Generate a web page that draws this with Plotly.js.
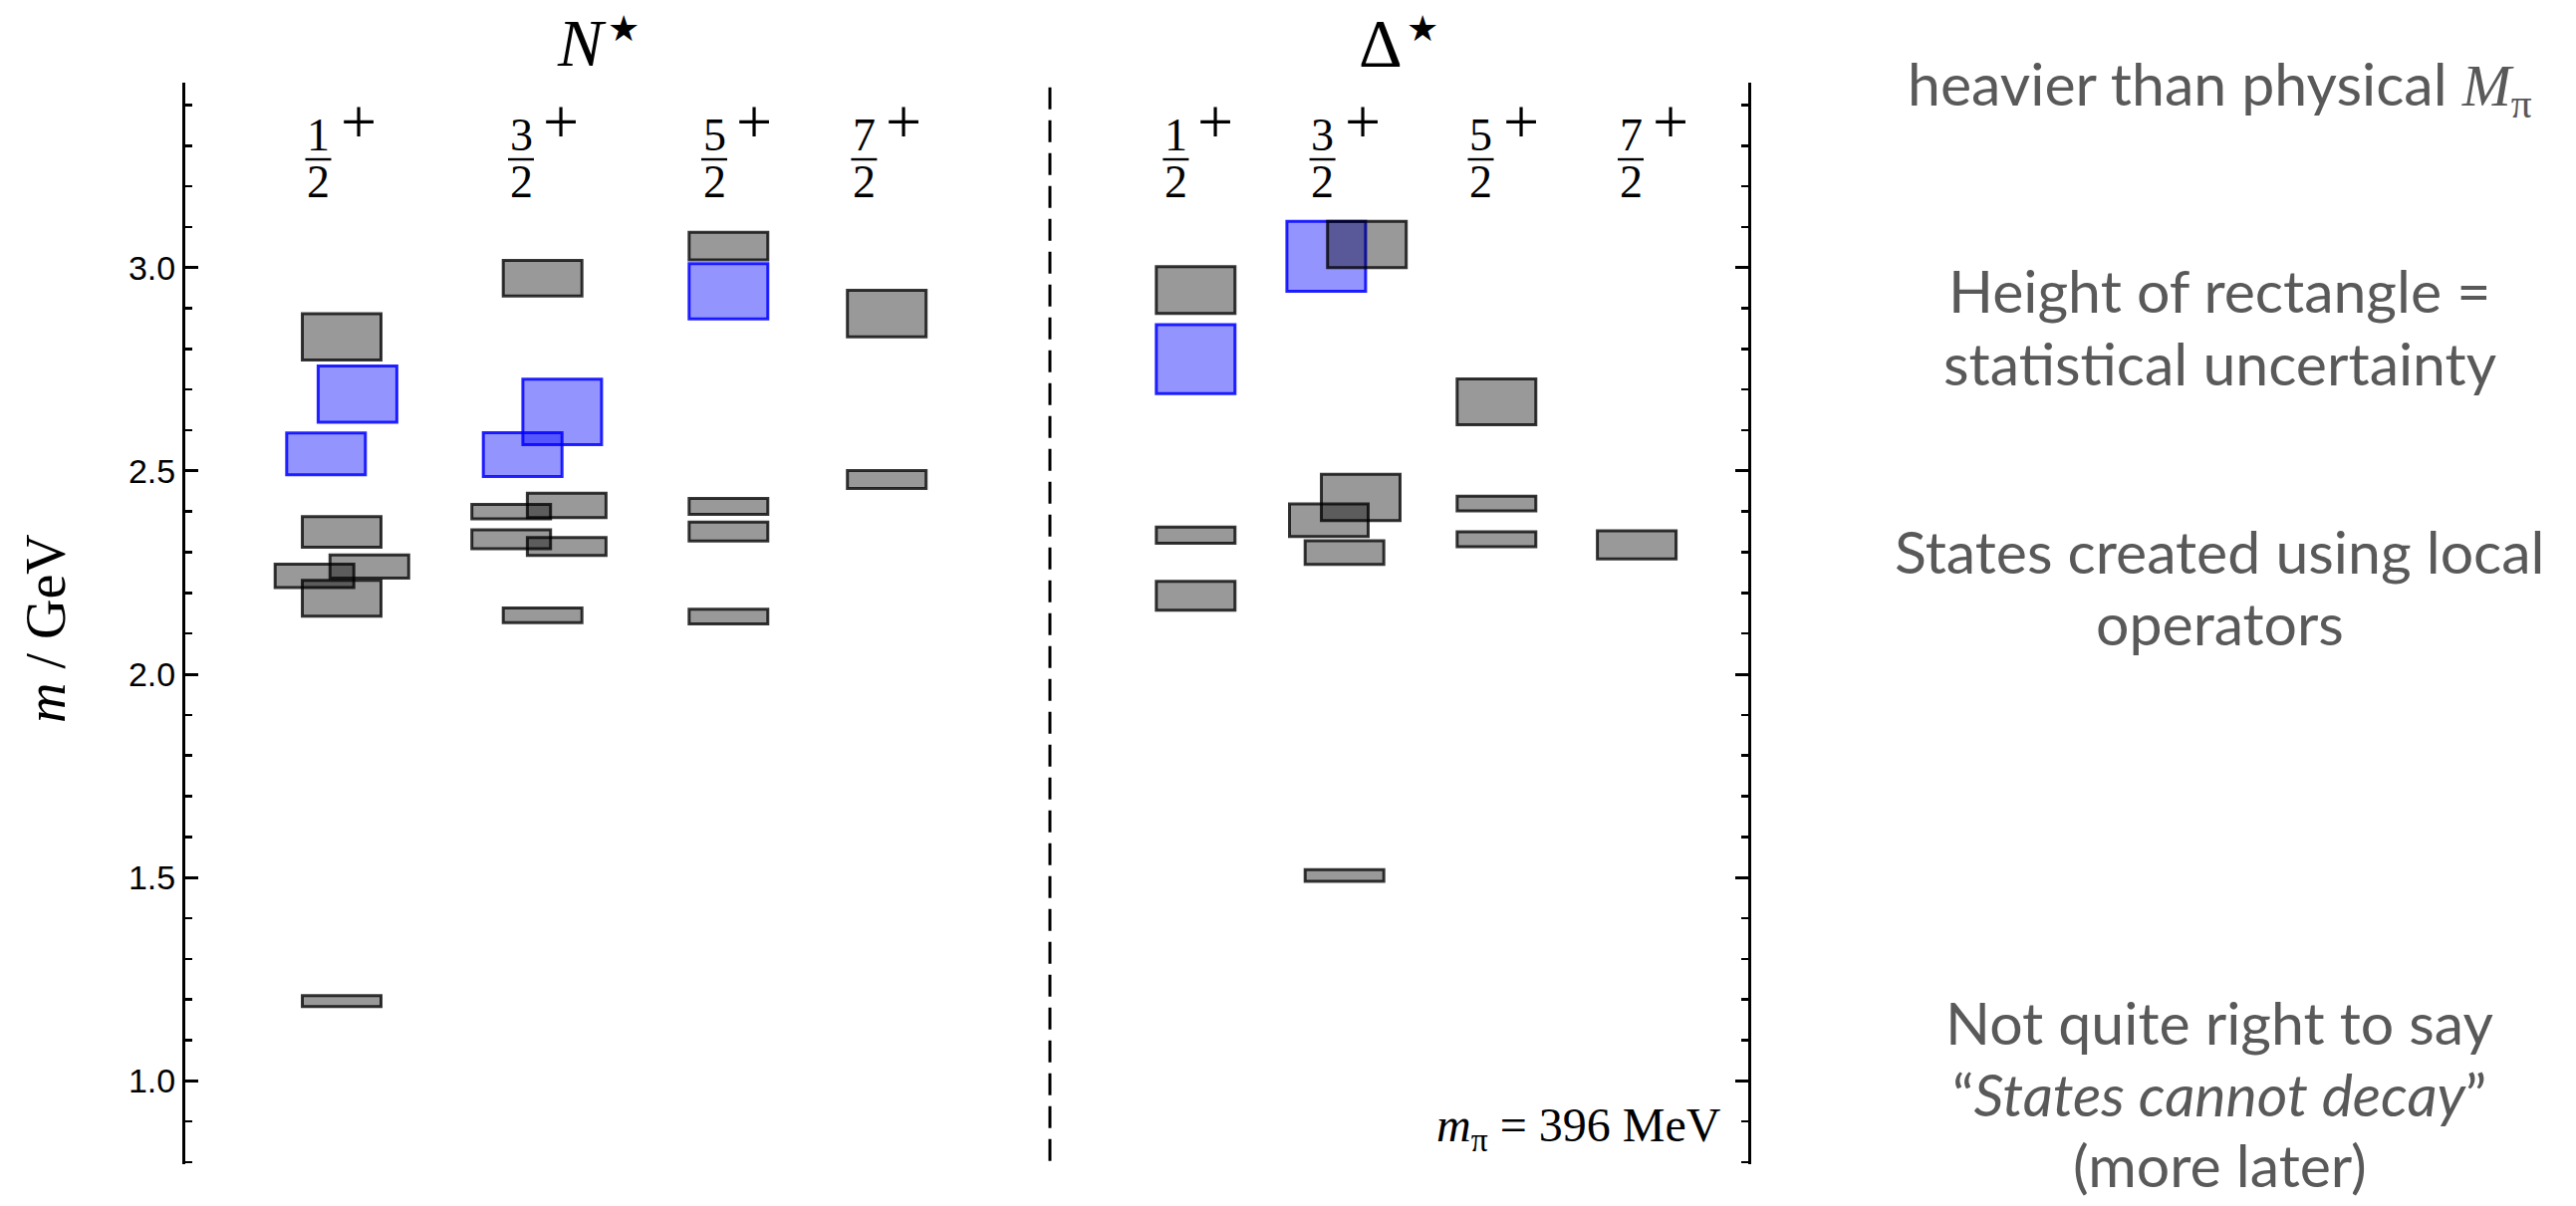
<!DOCTYPE html>
<html>
<head>
<meta charset="utf-8">
<script src="https://cdn.plot.ly/plotly-3.0.1.min.js"></script>
<style>
  html, body { margin: 0; padding: 0; background: #ffffff; }
  #chart { width: 2586px; height: 1211px; }
</style>
</head>
<body>
<div id="chart"></div>
<script>
// ---------------- DATA ----------------
const groupNames = ["N", "Δ"];
const spinNumerators = ["1", "3", "5", "7"];
const spinDenominator = "2";
const parity = "+";
const pionMassLabel = "396 MeV";

// one entry per state (rectangle)
const stateGroup = [0,0,0,0,0,0,0,0, 0,0,0,0,0,0,0,0, 0,0,0,0,0, 0,0, 1,1,1,1, 1,1,1,1,1,1, 1,1,1, 1];
const stateSpin  = [0,0,0,0,0,0,0,0, 1,1,1,1,1,1,1,1, 2,2,2,2,2, 3,3, 0,0,0,0, 1,1,1,1,1,1, 2,2,2, 3];
const stateMass  = [2.830,2.689,2.542,2.350,2.242,2.265,2.187,1.196,
                    2.974,2.645,2.540,2.415,2.400,2.332,2.314,2.145,
                    3.053,2.942,2.413,2.351,2.142,
                    2.887,2.479,
                    2.945,2.775,2.342,2.193,
                    3.028,3.057,2.435,2.379,2.299,1.505,
                    2.670,2.420,2.332,
                    2.318];
const stateErr   = [0.114,0.138,0.103,0.075,0.058,0.057,0.088,0.027,
                    0.087,0.161,0.108,0.060,0.036,0.046,0.044,0.036,
                    0.068,0.136,0.039,0.047,0.036,
                    0.115,0.044,
                    0.115,0.170,0.040,0.071,
                    0.172,0.114,0.114,0.080,0.058,0.029,
                    0.113,0.036,0.037,
                    0.069];
const stateKind  = ["g","b","b","g","g","g","g","g",
                    "g","b","b","g","g","g","g","g",
                    "g","b","g","g","g",
                    "g","g",
                    "g","b","g","g",
                    "b","g","g","g","g","g",
                    "g","g","g",
                    "g"];

const sideNotes = [
  "heavier than physical <span style=\"font-family:'Liberation Serif'\"><i>M</i><sub>π</sub></span>",
  "Height of rectangle =",
  "statistical uncertainty",
  "States created using local",
  "operators",
  "Not quite right to say",
  "“<i>States cannot decay</i>”",
  "(more later)"
];

// ---------------- LAYOUT (positions / styles) ----------------
const COLUMN_X = [[1.57, 3.587, 5.453, 7.042], [10.143, 11.637, 13.163, 14.571]];
const LABEL_X  = [[1.335, 3.37, 5.31, 6.814], [9.944, 11.416, 13.005, 14.51]];
const HEADER_X = [4.10, 12.12];
const SEPARATOR_X = 8.68;
const BOX_W = 0.79;
const stateNudge = [0,0.159,-0.157,0,-0.273,0.278,0,0,
                    0,0.197,-0.200,0.242,-0.315,-0.315,0.242,0,
                    0,0,0,0,0,
                    0,0,
                    0,0,0,0,
                    -0.183,0.225,0.163,-0.157,0,0,
                    0,0,0,
                    0];
const NOTE_Y = [0.9954, 0.8082, 0.7406, 0.5672, 0.5009, 0.1308, 0.0645, -0.0009];

const STYLE = {
  g: { fill: "rgba(0,0,0,0.40)", line: "rgba(0,0,0,0.78)" },
  b: { fill: "rgba(0,0,255,0.42)", line: "rgba(0,0,255,0.85)" }
};

function boxTrace(kind) {
  const xs = [], ys = [], bs = [];
  for (let i = 0; i < stateMass.length; i++) {
    if (stateKind[i] !== kind) continue;
    xs.push(COLUMN_X[stateGroup[i]][stateSpin[i]] + stateNudge[i]);
    ys.push(stateErr[i]);
    bs.push(stateMass[i] - stateErr[i] / 2);
  }
  return {
    type: "bar", x: xs, y: ys, base: bs, width: BOX_W,
    marker: { color: STYLE[kind].fill, line: { color: STYLE[kind].line, width: 3 } },
    hoverinfo: "skip", showlegend: false
  };
}

const traces = [boxTrace("b"), boxTrace("g")];

const serif = "Liberation Serif, DejaVu Serif, serif";
const annotations = [];
const shapes = [];

// group headers
groupNames.forEach((g, gi) => {
  annotations.push({
    x: HEADER_X[gi] - 0.12, xref: "x", y: 1.037, yref: "paper",
    text: (gi === 0 ? "<i>" + g + "</i>" : g),
    showarrow: false, xanchor: "center", yanchor: "middle",
    font: { family: serif, size: 68, color: "#000" }
  });
  annotations.push({
    x: HEADER_X[gi] + 0.30, xref: "x", y: 1.050, yref: "paper",
    text: "★",
    showarrow: false, xanchor: "center", yanchor: "middle",
    font: { family: "DejaVu Sans, sans-serif", size: 36, color: "#000" }
  });
});

// spin-parity labels
groupNames.forEach((g, gi) => {
  spinNumerators.forEach((num, j) => {
    const lx = LABEL_X[gi][j];
    annotations.push({ x: lx, xref: "x", y: 0.9512, yref: "paper", text: num,
      showarrow: false, xanchor: "center", yanchor: "middle",
      font: { family: serif, size: 46, color: "#000" } });
    annotations.push({ x: lx, xref: "x", y: 0.9084, yref: "paper", text: spinDenominator,
      showarrow: false, xanchor: "center", yanchor: "middle",
      font: { family: serif, size: 46, color: "#000" } });
    annotations.push({ x: lx + 0.40, xref: "x", y: 0.9640, yref: "paper", text: parity,
      showarrow: false, xanchor: "center", yanchor: "middle",
      font: { family: serif, size: 64, color: "#000" } });
    shapes.push({ type: "line", xref: "x", yref: "paper",
      x0: lx - 0.13, x1: lx + 0.13, y0: 0.9291, y1: 0.9291,
      line: { color: "#000", width: 2.4 } });
  });
});

// separator
shapes.push({ type: "line", xref: "x", yref: "paper", x0: SEPARATOR_X, x1: SEPARATOR_X,
  y0: 0.003, y1: 1.004, line: { color: "#000", width: 3, dash: "22px,11px" } });

// y axis title
annotations.push({ x: -0.0892, xref: "paper", y: 0.4954, yref: "paper",
  text: "<i>m</i> / GeV", textangle: -90, showarrow: false,
  xanchor: "center", yanchor: "middle",
  font: { family: serif, size: 56, color: "#000" } });

// pion mass
annotations.push({ x: 0.9841, xref: "paper", y: 0.0330, yref: "paper",
  text: "<i>m</i><sub>π</sub> = " + pionMassLabel, showarrow: false,
  xanchor: "right", yanchor: "middle",
  font: { family: serif, size: 48, color: "#000" } });

// side notes
sideNotes.forEach((t, i) => {
  annotations.push({ x: 1.3015, xref: "paper", y: NOTE_Y[i], yref: "paper",
    text: t, showarrow: false, xanchor: "center", yanchor: "middle",
    font: { family: "Lato, Open Sans, sans-serif", size: 59, color: "#595959" } });
});

const layout = {
  width: 2586, height: 1211,
  margin: { l: 186, r: 831, t: 83, b: 42, pad: 0 },
  paper_bgcolor: "#ffffff", plot_bgcolor: "#ffffff",
  barmode: "overlay", showlegend: false, hovermode: false,
  xaxis: { range: [0, 15.69], visible: false, fixedrange: true },
  yaxis: {
    range: [0.795, 3.455], showline: true, linecolor: "#000", linewidth: 3,
    mirror: "ticks", ticks: "inside", ticklen: 13, tickwidth: 3, tickcolor: "#000",
    tick0: 0, dtick: 0.5, tickformat: ".1f",
    tickfont: { family: "Liberation Sans, Arial, sans-serif", size: 34, color: "#000" },
    showgrid: false, zeroline: false, fixedrange: true,
    minor: { tick0: 0, dtick: 0.1, ticks: "inside", ticklen: 7, tickwidth: 2.5, tickcolor: "#000", showgrid: false }
  },
  annotations: annotations,
  shapes: shapes
};

Plotly.newPlot("chart", traces, layout, { staticPlot: true, displayModeBar: false });
</script>
</body>
</html>
